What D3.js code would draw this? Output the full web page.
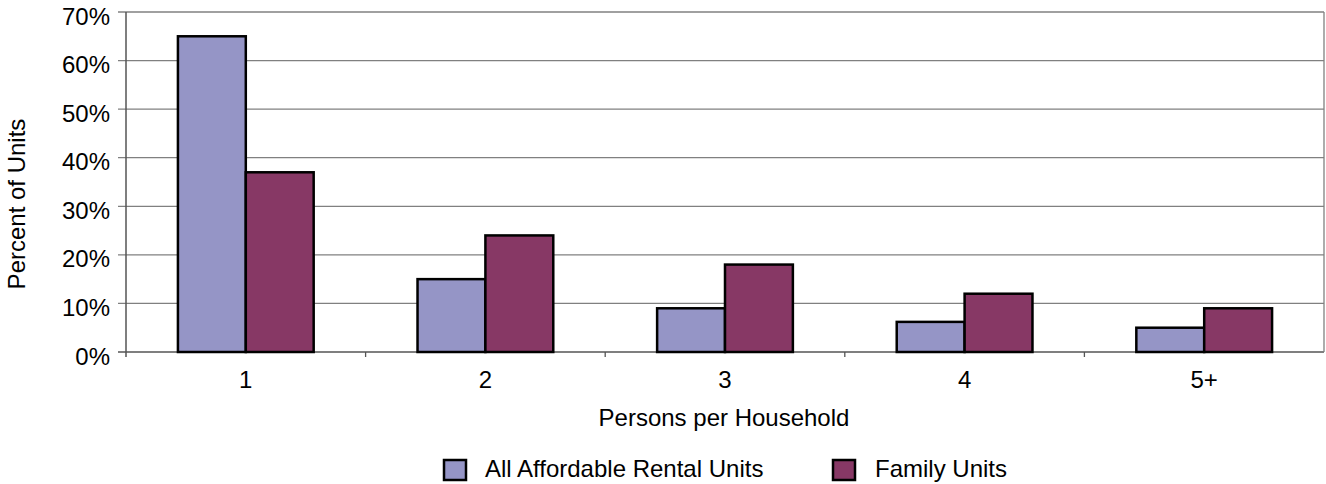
<!DOCTYPE html>
<html><head><meta charset="utf-8">
<script src="https://cdn.jsdelivr.net/npm/d3@7"></script>
<style>body{margin:0;background:#fff;} text{font-family:"Liberation Sans",Arial,sans-serif;fill:#000;}</style>
</head><body>
<svg id="c" width="1326" height="484"></svg>
<script>
const categories = ["1","2","3","4","5+"];
const seriesNames = ["All Affordable Rental Units","Family Units"];
const allUnits = [65,15,9,6.2,5];
const familyUnits = [37,24,18,12,9];
const yTicks = [0,10,20,30,40,50,60,70];
const colors = ["#9595C6","#873865"];

const svg = d3.select("#c");
const L=126,R=1324,T=12,B=352;
const FS=24;
const x0 = d3.scaleBand().domain(categories).range([L,R]).padding(0);
const x1 = d3.scaleBand().domain(seriesNames).range([0,x0.bandwidth()]).paddingInner(0).paddingOuter(0.765);
const y = d3.scaleLinear().domain([0,70]).range([B,T]);

// gridlines
svg.append("g").selectAll("line").data(yTicks).join("line")
 .attr("x1",L-8).attr("x2",R).attr("y1",d=>y(d)).attr("y2",d=>y(d))
 .attr("stroke",d=>d===0?"#555":"#808080").attr("stroke-width",1.3);
// right border
svg.append("line").attr("x1",R).attr("x2",R).attr("y1",T).attr("y2",B).attr("stroke","#808080").attr("stroke-width",1.3);
// left axis
svg.append("line").attr("x1",L).attr("x2",L).attr("y1",T).attr("y2",B+5).attr("stroke","#555").attr("stroke-width",1.5);
// x ticks
const bounds = categories.map(c=>x0(c)).concat([R]);
svg.append("g").selectAll("line").data(bounds.slice(1,-1)).join("line")
 .attr("x1",d=>d).attr("x2",d=>d).attr("y1",B).attr("y2",B+5).attr("stroke","#555").attr("stroke-width",1.3);

// y labels
svg.append("g").selectAll("text").data(yTicks).join("text")
 .attr("x",110).attr("y",d=>y(d)+12.5).attr("text-anchor","end").attr("font-size",FS).text(d=>d+"%");

// bars
const data = categories.map((c,i)=>({c, vals:[allUnits[i],familyUnits[i]]}));
const g = svg.append("g").selectAll("g").data(data).join("g").attr("transform",d=>`translate(${x0(d.c)},0)`);
g.selectAll("rect").data(d=>d.vals.map((v,j)=>({v,s:seriesNames[j],j}))).join("rect")
 .attr("x",d=>x1(d.s)).attr("width",x1.bandwidth()).attr("y",d=>y(d.v)).attr("height",d=>B-y(d.v))
 .attr("fill",d=>colors[d.j]).attr("stroke","#000").attr("stroke-width",2.5);

// x labels
svg.append("g").selectAll("text").data(categories).join("text")
 .attr("x",d=>x0(d)+x0.bandwidth()/2).attr("y",388).attr("text-anchor","middle").attr("font-size",FS).text(d=>d);

svg.append("text").attr("x",724).attr("y",426).attr("text-anchor","middle").attr("font-size",FS).text("Persons per Household");
svg.append("text").attr("transform","translate(25,204) rotate(-90)").attr("text-anchor","middle").attr("font-size",FS).text("Percent of Units");

// legend
const lx=[444,833];
const tx=[485,875];
seriesNames.forEach((s,i)=>{
  svg.append("rect").attr("x",lx[i]).attr("y",460).attr("width",22).attr("height",20).attr("fill",colors[i]).attr("stroke","#000").attr("stroke-width",2.5);
  svg.append("text").attr("x",tx[i]).attr("y",477).attr("font-size",FS).text(s);
});
</script>
</body></html>
